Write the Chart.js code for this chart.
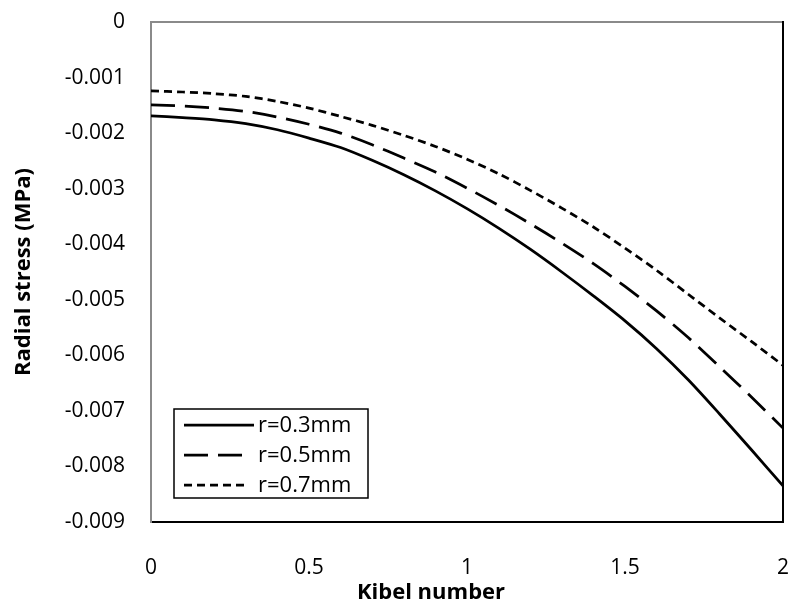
<!DOCTYPE html>
<html>
<head>
<meta charset="utf-8">
<script src="https://cdn.jsdelivr.net/npm/chart.js@4/dist/chart.umd.min.js"></script>
<style>
  html, body { margin: 0; padding: 0; background: #fff; }
  #wrap { width: 788px; height: 606px; }
</style>
</head>
<body>
<div id="wrap"><canvas id="stress"></canvas></div>
<script>
// Kibel number (x) and radial stress in MPa for three radii
var kibel = [0, 0.1, 0.2, 0.3, 0.4, 0.5, 0.6, 0.7, 0.8, 0.9, 1.0,
             1.1, 1.2, 1.3, 1.4, 1.5, 1.6, 1.7, 1.8, 1.9, 2.0];
var r03 = [-0.00169, -0.00172, -0.00176, -0.00183, -0.00194, -0.00209, -0.00226, -0.00249, -0.00275, -0.00304, -0.00336,
           -0.00371, -0.00409, -0.00450, -0.00493, -0.00538, -0.00588, -0.00644, -0.00706, -0.00770, -0.00835];
var r05 = [-0.00149, -0.00151, -0.00155, -0.00161, -0.00171, -0.00184, -0.00200, -0.00221, -0.00245, -0.00270, -0.00299,
           -0.00330, -0.00363, -0.00398, -0.00435, -0.00476, -0.00520, -0.00568, -0.00621, -0.00675, -0.00731];
var r07 = [-0.00124, -0.00126, -0.00129, -0.00134, -0.00143, -0.00155, -0.00170, -0.00186, -0.00204, -0.00224, -0.00247,
           -0.00273, -0.00303, -0.00335, -0.00369, -0.00407, -0.00447, -0.00490, -0.00533, -0.00575, -0.00618];
var seriesNames = ["r=0.3mm", "r=0.5mm", "r=0.7mm"];

var FONT = "'Open Sans', 'Liberation Sans', sans-serif";

function pts(ys) {
    return kibel.map(function (k, i) { return { x: k, y: ys[i] }; });
}

// frame lines (top gray, right black), x title and legend box
var extras = {
    id: 'extras',
    afterDraw: function (chart) {
        var ctx = chart.ctx, a = chart.chartArea;
        ctx.save();
        ctx.lineWidth = 2;
        ctx.strokeStyle = '#8a8a8a';
        ctx.beginPath();
        ctx.moveTo(a.left, a.top);
        ctx.lineTo(a.right, a.top);
        ctx.stroke();
        ctx.strokeStyle = '#000';
        ctx.beginPath();
        ctx.moveTo(a.right, a.top - 1);
        ctx.lineTo(a.right, a.bottom);
        ctx.stroke();

        // x axis title
        ctx.fillStyle = '#000';
        ctx.font = 'bold 22px ' + FONT;
        ctx.textAlign = 'center';
        ctx.textBaseline = 'middle';
        ctx.fillText('Kibel number', (a.left + a.right) / 2 - 36, a.bottom + 71);

        // legend
        var bx = a.left + 23, by = a.bottom - 113, bw = 194, bh = 89;
        ctx.fillStyle = '#fff';
        ctx.fillRect(bx, by, bw, bh);
        ctx.lineWidth = 1.5;
        ctx.strokeStyle = '#000';
        ctx.strokeRect(bx, by, bw, bh);
        ctx.font = '22px ' + FONT;
        ctx.textAlign = 'left';
        chart.data.datasets.forEach(function (ds, i) {
            var y = by + 16 + i * 30;
            var len = 70;
            if (ds.borderDash) {
                var period = ds.borderDash[0] + ds.borderDash[1];
                var rem = len % period;
                if (rem < 6) len -= rem;
            }
            ctx.lineWidth = ds.borderWidth;
            ctx.setLineDash(ds.borderDash || []);
            ctx.beginPath();
            ctx.moveTo(bx + 10, y);
            ctx.lineTo(bx + 10 + len, y);
            ctx.stroke();
            ctx.setLineDash([]);
            ctx.fillStyle = '#000';
            ctx.fillText(ds.label, bx + 84, y + 1);
        });
        ctx.restore();
    }
};

new Chart(document.getElementById("stress"), {
    type: 'line',
    data: {
        datasets: [{
            label: seriesNames[0],
            data: pts(r03),
            borderColor: '#000',
            borderWidth: 2.75,
            pointRadius: 0,
            tension: 0.3
        }, {
            label: seriesNames[1],
            data: pts(r05),
            borderColor: '#000',
            borderWidth: 2.75,
            borderDash: [24, 10],
            pointRadius: 0,
            tension: 0.3
        }, {
            label: seriesNames[2],
            data: pts(r07),
            borderColor: '#000',
            borderWidth: 2.75,
            borderDash: [8, 5],
            pointRadius: 0,
            tension: 0.3
        }]
    },
    options: {
        responsive: true,
        maintainAspectRatio: false,
        animation: false,
        layout: { padding: { left: 0, top: 22, right: 5, bottom: 0 } },
        plugins: {
            legend: { display: false },
            tooltip: { enabled: false },
            title: { display: false }
        },
        scales: {
            x: {
                type: 'linear',
                min: 0,
                max: 2,
                grid: { display: false, drawTicks: false },
                border: { display: true, color: '#000', width: 2 },
                ticks: {
                    stepSize: 0.5,
                    padding: 33,
                    color: '#000',
                    font: { family: FONT, size: 21 },
                    callback: function (v) { return String(v); }
                },
                afterFit: function (s) {
                    s.height = 84;
                    s.paddingLeft = 0;
                    s.paddingRight = 0;
                }
            },
            y: {
                min: -0.009,
                max: 0,
                grid: { display: false, drawTicks: false },
                border: { display: true, color: '#8a8a8a', width: 2 },
                ticks: {
                    stepSize: 0.001,
                    padding: 26,
                    color: '#000',
                    font: { family: FONT, size: 21 },
                    callback: function (v) { return Math.abs(v) < 1e-9 ? '0' : v.toFixed(3); }
                },
                title: {
                    display: true,
                    text: 'Radial stress (MPa)',
                    color: '#000',
                    font: { family: FONT, size: 22, weight: 'bold' },
                    padding: { top: 11, bottom: 0 }
                },
                afterFit: function (s) {
                    s.width = 151;
                    s.paddingTop = 0;
                    s.paddingBottom = 0;
                }
            }
        }
    },
    plugins: [extras]
});
</script>
</body>
</html>
